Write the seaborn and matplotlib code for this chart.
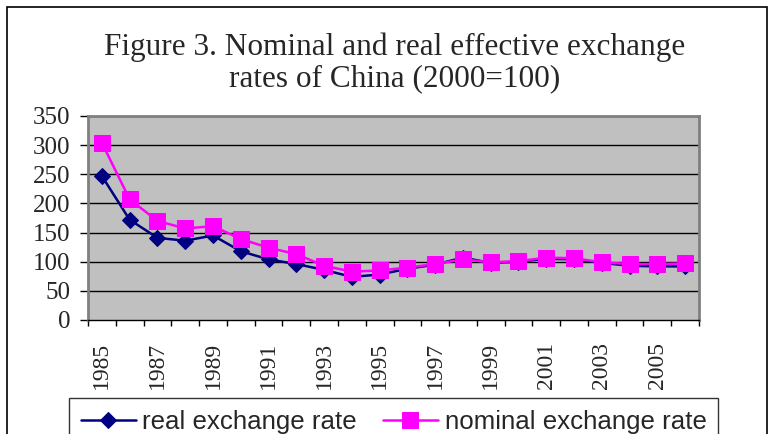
import pandas as pd
import matplotlib.pyplot as plt
import seaborn as sns
from matplotlib.patches import Rectangle

# data
years = list(range(1985, 2007))
real_rate = [247, 172, 141, 136, 145, 118, 104, 96, 86, 74, 78, 88, 95, 107, 98, 100, 105, 104, 98, 93, 92, 92]
nominal_rate = [304, 207, 170, 157, 161, 139, 124, 113, 93, 83, 85, 90, 96, 104, 99, 101, 107, 106, 99, 96, 96, 97]
year_labels = [str(y) for y in range(1985, 2006, 2)]

df = pd.DataFrame({'year': years, 'real': real_rate, 'nominal': nominal_rate})

sns.set_theme(style='ticks')
plt.rcParams['font.family'] = ['Liberation Serif', 'DejaVu Serif']

fig = plt.figure(figsize=(7.77, 4.34), dpi=100)
ax = fig.add_axes([88/777, 1-320/434, (699-88)/777, (320-116)/434])
ax.set_facecolor('#C0C0C0')

for y in range(50, 351, 50):
    ax.axhline(y, color='black', lw=1, zorder=1)

sns.lineplot(data=df, x='year', y='real', ax=ax, color='#000080', marker='D',
             markersize=8, markeredgecolor='#000080', lw=1.8, label='real exchange rate', zorder=3)
sns.lineplot(data=df, x='year', y='nominal', ax=ax, color='#FF00FF', marker='s',
             markersize=11, markeredgecolor='#FF00FF', lw=1.8, label='nominal exchange rate', zorder=4)

ax.set_xlim(1984.5, 2006.5)
ax.set_ylim(0, 350)
ax.set_yticks(range(0, 351, 50))
ax.set_xticks(range(1985, 2006, 2))
ax.set_xticklabels(year_labels, rotation=90)
ax.set_xticks([1984.5 + k for k in range(23)], minor=True)
ax.tick_params(axis='x', which='major', length=0, pad=16, labelsize=17)
ax.tick_params(axis='x', which='minor', length=4, width=1, direction='out', color='black')
ax.tick_params(axis='y', length=5.8, width=1, direction='out', color='black', labelsize=18, pad=7)
ax.set_xlabel('')
ax.set_ylabel('')

for side in ['top', 'right', 'left']:
    ax.spines[side].set_color('#808080')
    ax.spines[side].set_linewidth(2)
ax.spines['bottom'].set_color('black')
ax.spines['bottom'].set_linewidth(1)

handles, labels = ax.get_legend_handles_labels()
ax.get_legend().remove()
leg = fig.legend(handles, labels, loc='upper left', bbox_to_anchor=(69/777, 1-398/434),
                 ncol=2, frameon=True, fancybox=False, edgecolor='black', handlelength=2.14,
                 handletextpad=0.25, columnspacing=1.0, borderpad=0.45, borderaxespad=0,
                 prop={'family': 'Liberation Sans', 'size': 18.6})
leg.get_frame().set_linewidth(1)

fig.text(0.508, 1-55/434, 'Figure 3. Nominal and real effective exchange',
         ha='center', va='baseline', fontsize=22.5)
fig.text(0.508, 1-86/434, 'rates of China (2000=100)',
         ha='center', va='baseline', fontsize=22.5)

fig.patches.append(Rectangle((7/777, -0.1), (767-7)/777, 1.1-7/434, transform=fig.transFigure,
                             fill=False, edgecolor='black', lw=1.2))

fig.savefig('out.png', dpi=100)
